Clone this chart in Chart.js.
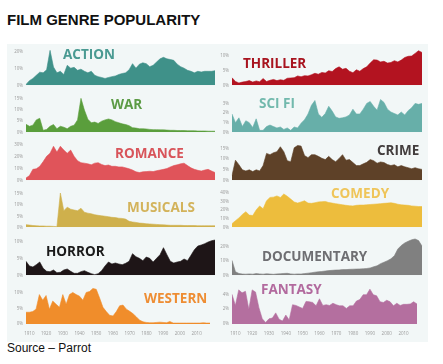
<!DOCTYPE html>
<html>
<head>
<meta charset="utf-8">
<script src="https://cdn.jsdelivr.net/npm/chart.js@4.4.3/dist/chart.umd.min.js"></script>
<style>
  body { margin: 0; background: #fff; width: 443px; height: 364px; overflow: hidden; position: relative; font-family: "Liberation Sans", Arial, sans-serif; }
  #title { position: absolute; left: 7px; top: 11px; font-size: 15px; font-weight: bold; color: #111; white-space: nowrap; }
  #source { position: absolute; left: 7px; top: 341px; font-size: 12px; color: #111; white-space: nowrap; }
  #panel { position: absolute; left: 7px; top: 44px; width: 421px; height: 298px; background: #f2f7f7; }
  canvas { position: absolute; }
  .genre { position: absolute; font-family: "Open Sans", sans-serif; font-weight: bold; font-size: 13.5px; line-height: 14px; white-space: nowrap; z-index: 5; }
</style>
</head>
<body>
<div id="title">FILM GENRE POPULARITY</div>
<div id="panel"></div>
<div id="source">Source – Parrot</div>
<script>
// years (every second year)
const years = [1908, 1910, 1912, 1914, 1916, 1918,
  1920, 1922, 1924, 1926, 1928,
  1930, 1932, 1934, 1936, 1938,
  1940, 1942, 1944, 1946, 1948,
  1950, 1952, 1954, 1956, 1958,
  1960, 1962, 1964, 1966, 1968,
  1970, 1972, 1974, 1976, 1978,
  1980, 1982, 1984, 1986, 1988,
  1990, 1992, 1994, 1996, 1998,
  2000, 2002, 2004, 2006, 2008,
  2010, 2012, 2014, 2016, 2018];

// share of films per genre, in %
const action = [0.5, 2.8, 4.1, 6.0, 7.9, 7.5,
  9.3, 21, 11, 7.5, 8.4,
  6.5, 12, 10.3, 10.8, 9.0,
  9.7, 8.4, 7.5, 8.4, 6.0,
  5.2, 4.7, 4.1, 4.7, 5.2,
  5.6, 6.5, 7.1, 7.5, 9.3,
  13, 10.3, 12.7, 13.5, 13,
  11.2, 12, 14, 15.9, 16.8,
  15.9, 15.5, 15, 12.7, 11.2,
  10.3, 9.0, 8.4, 7.5, 8.4,
  8.0, 8.4, 8.4, 8.4, 8.8];

const war = [3.6, 2.7, 3.2, 5.6, 6.3, 0.9,
  1.3, 2.7, 3.5, 1.6, 2.7,
  2.3, 1.6, 2.7, 3.2, 5.6,
  15.3, 10, 5.9, 4.3, 4.6,
  4.0, 5.0, 5.6, 6.0, 5.6,
  4.8, 4.3, 3.8, 3.5, 3.0,
  2.1, 1.9, 1.6, 1.6, 1.5,
  1.3, 1.2, 1.2, 1.1, 1.1,
  1.0, 0.9, 0.9, 0.8, 0.8,
  0.8, 0.7, 0.7, 0.7, 0.6,
  0.6, 0.6, 0.5, 0.5, 0.5];

const romance = [1.9, 4.0, 9.3, 9.8, 11.9, 15.9,
  20.4, 23, 29, 24, 29,
  25.7, 23, 25.7, 20.4, 16.7,
  15, 14.6, 14, 13.2, 14.6,
  15, 13.5, 12.5, 13, 11.9,
  11.9, 11.4, 11.4, 10.6, 9.8,
  8.7, 7.2, 6.6, 7.2, 7.4,
  7.7, 7.4, 8.2, 8.7, 9.3,
  10, 11.4, 12.5, 13.2, 14,
  14.6, 12.5, 10.6, 9.3, 8.5,
  7.9, 8.7, 9.3, 7.9, 6.6];

const musicals = [1.2, 1.0, 0.8, 0.7, 0.6, 0.6,
  0.5, 0.5, 0.4, 0.3, 15.5,
  7.5, 9.1, 8.2, 7.8, 7.5,
  8.6, 6.8, 6.4, 6.1, 5.7,
  5.4, 5.2, 5.0, 4.8, 4.5,
  4.4, 4.1, 4.0, 3.7, 2.7,
  2.4, 2.2, 1.9, 1.8, 1.6,
  1.5, 1.4, 1.3, 1.2, 1.1,
  1.0, 0.9, 0.9, 0.9, 0.9,
  0.8, 0.8, 0.8, 0.8, 0.7,
  0.7, 0.7, 0.7, 0.7, 0.7];

const horror = [4.2, 2.8, 2.5, 3.2, 4.0, 2.1,
  1.2, 1.1, 1.6, 0.8, 0.9,
  1.6, 1.9, 1.2, 0.6, 0.6,
  1.1, 1.4, 0.9, 0.5, 0.2,
  0.5, 1.4, 2.8, 4.0, 3.4,
  3.7, 3.4, 3.2, 3.6, 4.2,
  6.5, 5.6, 5.1, 4.4, 5.5,
  5.1, 4.0, 5.1, 6.2, 8.3,
  6.2, 4.2, 3.7, 4.0, 4.2,
  4.9, 4.4, 6.0, 7.7, 8.8,
  9.1, 9.5, 10, 10.4, 10.6];

const western = [3.8, 3.8, 4.0, 4.8, 9.5, 7.7,
  9.2, 4.8, 7.4, 6.4, 5.4,
  9.5, 6.4, 9.5, 10.2, 9.5,
  9.0, 7.7, 10.2, 10.5, 11.5,
  11.2, 8.4, 5.4, 4.0, 2.8,
  2.6, 4.0, 5.9, 6.1, 4.8,
  4.1, 3.3, 2.3, 1.2, 0.7,
  0.5, 0.4, 0.4, 0.5, 0.6,
  0.5, 0.4, 0.8, 0.3, 0.3,
  0.3, 0.3, 0.3, 0.3, 0.3,
  0.3, 0.3, 0.4, 0.3, 0.3];

const thriller = [2.6, 1.3, 0.8, 1.1, 1.3, 1.6,
  1.1, 1.5, 1.2, 2.3, 1.3,
  1.7, 2.0, 1.6, 1.9, 1.7,
  2.4, 2.5, 2.6, 3.2, 2.9,
  3.3, 3.2, 3.6, 4.1, 3.8,
  4.4, 4.2, 5.0, 4.7, 5.7,
  6.3, 5.5, 5.8, 4.8, 4.3,
  5.3, 4.8, 5.7, 6.3, 7.6,
  8.7, 8.6, 8.0, 8.2, 7.6,
  7.8, 8.4, 8.0, 8.6, 9.5,
  9.9, 10, 10.9, 11.8, 11.2];

const scifi = [1.9, 1.0, 1.5, 0.6, 1.2, 1.0,
  0.5, 1.4, 0.2, 0.2, 0.6,
  0.75, 0.6, 0.45, 0.55, 0.3,
  0.45, 0.2, 0.55, 0.45, 0.95,
  1.3, 1.9, 2.8, 3.3, 1.9,
  1.55, 1.95, 2.7, 2.2, 1.6,
  1.45, 1.5, 1.6, 1.8, 2.4,
  1.9, 1.9, 2.4, 3.0, 3.2,
  2.7, 2.3, 3.4, 3.1, 2.4,
  2.1, 1.95, 1.8, 2.1, 1.8,
  2.25, 2.55, 3.0, 2.9, 3.0];

const crime = [2.3, 9.4, 7.3, 4.9, 4.4, 4.9,
  4.1, 4.9, 4.4, 6.9, 12.6,
  12, 12.9, 13.4, 15.7, 13.4,
  9.2, 8.7, 15.2, 16.3, 16,
  11.6, 10.6, 12, 12, 11.2,
  10.3, 9.7, 11.2, 9.7, 8.7,
  10.2, 12, 9.4, 9.7, 8.3,
  6.9, 6.9, 7.7, 8.4, 9.7,
  9.2, 8, 8.6, 8.3, 7.4,
  6.9, 7.3, 6.3, 6.9, 6.3,
  5.9, 5.4, 5.9, 5.4, 5.1];

const comedy = [4.3, 7.7, 11, 15, 18.3, 14.3,
  13.7, 20.3, 25, 21.7, 31,
  35, 35.3, 36.7, 35, 39,
  36.3, 33, 29.7, 28.3, 29.7,
  31, 28.3, 28, 28.7, 29.7,
  30, 30.3, 29, 28.3, 27.7,
  27, 26.3, 25.7, 25.3, 25,
  25.7, 26, 26, 26.3, 26.7,
  27, 27.3, 27.7, 28, 28.3,
  28.7, 28, 27, 26.3, 26,
  25.7, 25, 24.7, 24.3, 24.3];

const documentary = [10.5, 2.5, 1.3, 0.9, 0.8, 1.0,
  0.8, 1.2, 1.0, 0.8, 1.1,
  0.9, 0.7, 1.0, 1.1, 1.3,
  1.4, 1.0, 0.8, 1.0, 0.9,
  1.2, 1.5, 1.8, 2.2, 2.5,
  2.7, 3.0, 3.3, 3.5, 3.7,
  3.8, 4.0, 4.0, 4.2, 4.3,
  4.4, 4.5, 4.6, 4.8, 5.2,
  6.0, 6.7, 8.2, 9.2, 10.3,
  11.6, 13.8, 18.5, 21, 22.8,
  24, 25, 25.6, 24.5, 20.6];

const fantasy = [4.0, 2.5, 4.6, 4.2, 4.4, 2.0,
  4.6, 4.3, 2.2, 0.7, 0.2,
  0.7, 0.8, 1.5, 0.65, 0.4,
  1.2, 0.55, 2.6, 2.5, 2.3,
  2.1, 3.05, 3.0, 2.9, 2.45,
  3.4, 2.5, 2.6, 2.5, 2.8,
  2.6, 2.45, 2.45, 2.1, 2.45,
  2.45, 3.1, 3.3, 3.95, 3.95,
  4.7, 3.95, 3.8, 3.0, 2.9,
  3.2, 3.0, 2.45, 2.8, 2.5,
  2.65, 2.65, 2.7, 3.0, 2.7];

// y axis tops and tick steps for each panel
const yMax  = { action: 22, war: 16.5, romance: 32, musicals: 17, horror: 11.3, western: 12.7,
                thriller: 12.5, scifi: 3.8, crime: 17.6, comedy: 44, documentary: 26.5, fantasy: 5.3 };
const yStep = { action: 10, war: 5, romance: 10, musicals: 5, horror: 5, western: 5,
                thriller: 5, scifi: 1, crime: 5, comedy: 10, documentary: 10, fantasy: 2 };

// layout of the small multiples
const rowTop    = [47, 94, 141, 188, 236, 283];
const rowBottom = [87, 134, 182, 229, 277, 324];
const cols = [
  { left: 7,   width: 210, axisW: 19 },
  { left: 218, width: 206, axisW: 14 }
];

const panels = [
  { key: 'action',   data: action,   col: 0, row: 0, fill: '#3f9189', label: 'ACTION',   lc: '#4a9a92', lx: 63,  ly: 47 },
  { key: 'war',      data: war,      col: 0, row: 1, fill: '#5a9e3c', label: 'WAR',      lc: '#5c9b45', lx: 111, ly: 97 },
  { key: 'romance',  data: romance,  col: 0, row: 2, fill: '#e0545a', label: 'ROMANCE',  lc: '#d8545a', lx: 115, ly: 146 },
  { key: 'musicals', data: musicals, col: 0, row: 3, fill: '#cfb04c', label: 'MUSICALS', lc: '#d3b35b', lx: 127, ly: 200 },
  { key: 'horror',   data: horror,   col: 0, row: 4, fill: '#1e1517', label: 'HORROR',   lc: '#1a1a1a', lx: 46,  ly: 244 },
  { key: 'western',  data: western,  col: 0, row: 5, fill: '#f08d2b', label: 'WESTERN',  lc: '#ee8d33', lx: 144, ly: 291 },
  { key: 'thriller', data: thriller, col: 1, row: 0, fill: '#b31320', label: 'THRILLER', lc: '#a8141f', lx: 243, ly: 56 },
  { key: 'scifi',    data: scifi,    col: 1, row: 1, fill: '#67afa9', label: 'SCI FI',   lc: '#72b9ad', lx: 259, ly: 96 },
  { key: 'crime',    data: crime,    col: 1, row: 2, fill: '#5e4128', label: 'CRIME',    lc: '#423d3d', lx: 377, ly: 143 },
  { key: 'comedy',   data: comedy,   col: 1, row: 3, fill: '#edbd3d', label: 'COMEDY',   lc: '#efc55a', lx: 331, ly: 186 },
  { key: 'documentary', data: documentary, col: 1, row: 4, fill: '#808080', label: 'DOCUMENTARY', lc: '#6e6e72', lx: 262, ly: 249 },
  { key: 'fantasy',  data: fantasy,  col: 1, row: 5, fill: '#b46f9f', label: 'FANTASY',  lc: '#b26a9e', lx: 261, ly: 282 }
];

const tickColor = '#9a9a9a';
const PAD = 4;
const X_AXIS_H = 14;

panels.forEach(p => {
  const col = cols[p.col];
  const isBottom = p.row === 5;
  const top = rowTop[p.row];
  const bottom = rowBottom[p.row];

  const canvas = document.createElement('canvas');
  const h = (bottom - top) + PAD + (isBottom ? X_AXIS_H : PAD);
  canvas.width = col.width;
  canvas.height = h;
  canvas.style.width = col.width + 'px';
  canvas.style.height = h + 'px';
  canvas.style.left = col.left + 'px';
  canvas.style.top = (top - PAD) + 'px';
  document.body.appendChild(canvas);

  new Chart(canvas.getContext('2d'), {
    type: 'line',
    data: {
      labels: years,
      datasets: [{
        data: p.data,
        fill: 'origin',
        backgroundColor: p.fill,
        borderColor: p.fill,
        borderWidth: 0.6,
        pointRadius: 0,
        tension: 0
      }]
    },
    options: {
      responsive: false,
      maintainAspectRatio: false,
      animation: false,
      events: [],
      layout: { padding: { top: PAD, bottom: isBottom ? 0 : PAD, right: 2, left: 0 } },
      plugins: { legend: { display: false }, tooltip: { enabled: false } },
      scales: {
        x: {
          display: isBottom,
          offset: false,
          grid: { display: false, drawTicks: false },
          border: { display: false },
          ticks: {
            autoSkip: false,
            maxRotation: 0,
            padding: 7,
            color: tickColor,
            font: { size: 4.5, family: 'Open Sans' },
            callback: (v, i) => (years[i] % 10 === 0 ? String(years[i]) : '')
          },
          afterFit: s => { if (isBottom) s.height = X_AXIS_H; }
        },
        y: {
          min: 0,
          max: yMax[p.key],
          grid: { display: false, drawTicks: false },
          border: { display: false },
          ticks: {
            stepSize: yStep[p.key],
            includeBounds: false,
            padding: 3,
            color: tickColor,
            font: { size: 4.5, family: 'Open Sans' },
            callback: v => v + '%'
          },
          afterFit: s => { s.width = col.axisW; }
        }
      }
    }
  });

  const lab = document.createElement('div');
  lab.className = 'genre';
  lab.textContent = p.label;
  lab.style.left = p.lx + 'px';
  lab.style.top = p.ly + 'px';
  lab.style.color = p.lc;
  document.body.appendChild(lab);
});
</script>
</body>
</html>
